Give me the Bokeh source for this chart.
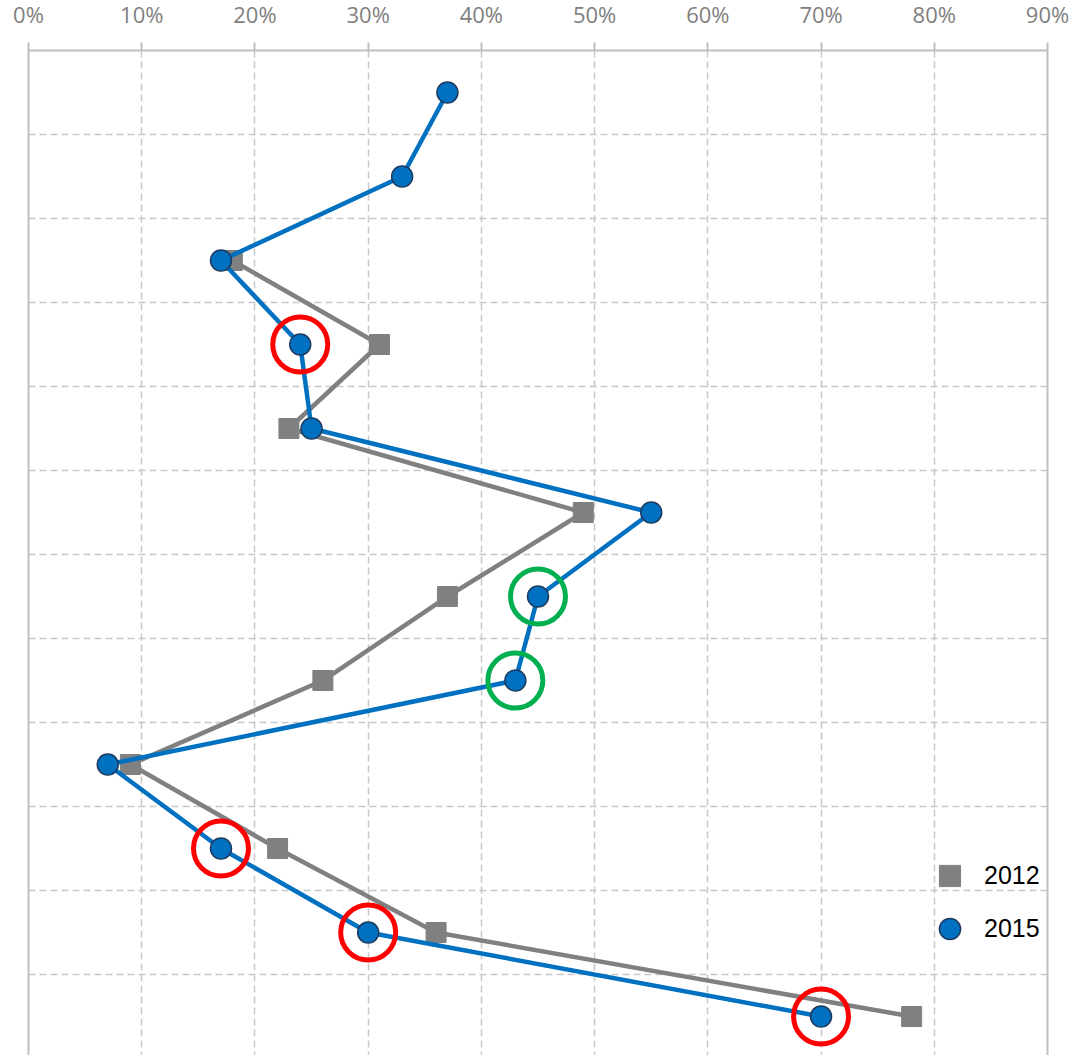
import math
from bokeh.plotting import figure
from bokeh.models import (Range1d, FixedTicker, LinearAxis, Legend, LegendItem,
                          ColumnDataSource, Grid)
from bokeh.embed import file_html
from bokeh.resources import INLINE

# ---- data ----
rows = [1, 2, 3, 4, 5, 6, 7, 8, 9, 10, 11, 12]
pct_2012 = [float("nan"), float("nan"), 18, 31, 23, 49, 37, 26, 9, 22, 36, 78]
pct_2015 = [37, 33, 17, 24, 25, 55, 45, 43, 7, 17, 30, 70]
x_ticks = [0, 10, 20, 30, 40, 50, 60, 70, 80, 90]
x_tick_labels = ["0%", "10%", "20%", "30%", "40%", "50%", "60%", "70%", "80%", "90%"]
highlight_rows = [4, 10, 11, 12, 7, 8]
highlight_colors = ["#ff0000", "#ff0000", "#ff0000", "#ff0000", "#00b050", "#00b050"]

GRID = "#c8c8c8"
AXIS = "#bfbfbf"

p = figure(width=1073, height=1060,
           x_range=Range1d(0, 90), y_range=Range1d(12.464, 0.5),
           x_axis_location="above", y_axis_location=None,
           output_backend="svg", toolbar_location=None,
           min_border_left=28, min_border_right=26, min_border_top=0, min_border_bottom=0,
           margin=(-5, 0, 0, 0))
p.outline_line_color = None
for g in p.ygrid:
    g.visible = False

xa = p.xaxis[0]
xa.ticker = FixedTicker(ticks=x_ticks)
xa.major_label_overrides = {t: l for t, l in zip(x_ticks, x_tick_labels)}
xa.major_label_text_font = "Open Sans"
xa.major_label_text_font_size = "22px"
xa.major_label_text_color = "#808080"
xa.axis_line_color = AXIS
xa.axis_line_width = 2
xa.major_tick_line_color = AXIS
xa.major_tick_line_width = 2
xa.major_tick_in = 0
xa.major_tick_out = 8
xa.minor_tick_line_color = None
xa.major_label_standoff = 14

p.xgrid.ticker = FixedTicker(ticks=x_ticks)
p.xgrid.grid_line_color = GRID
p.xgrid.grid_line_width = 1.5
p.xgrid.grid_line_dash = "7 4"

ygrid = Grid(dimension=1, ticker=FixedTicker(ticks=[r + 0.5 for r in rows[:-1]]),
             grid_line_color=GRID, grid_line_width=1.5, grid_line_dash="7 4")
p.add_layout(ygrid)

for side in ("left", "right"):
    ax = LinearAxis(ticker=FixedTicker(ticks=[]), axis_line_color=AXIS, axis_line_width=2,
                    major_tick_line_color=None, minor_tick_line_color=None,
                    major_label_text_font_size="0px", major_label_standoff=0)
    p.add_layout(ax, side)

src = ColumnDataSource(dict(row=rows, p12=pct_2012, p15=pct_2015))

p.line("p12", "row", source=src, line_color="#808080", line_width=4.5)
r12 = p.scatter("p12", "row", source=src, marker="square", size=20,
                fill_color="#808080", line_color="#808080")
p.line("p15", "row", source=src, line_color="#0070c0", line_width=4.5)

hx = [pct_2015[rows.index(r)] for r in highlight_rows]
hsrc = ColumnDataSource(dict(x=hx, y=highlight_rows, c=highlight_colors))
p.scatter("x", "y", source=hsrc, marker="circle", size=55, fill_color=None,
          line_color="c", line_width=5)

r15 = p.scatter("p15", "row", source=src, marker="circle", size=21,
                fill_color="#0070c0", line_color="#1f3a5f", line_width=1.5)

legend = Legend(items=[LegendItem(label="2012", renderers=[r12]),
                       LegendItem(label="2015", renderers=[r15])],
                location=(895, 100), glyph_width=53, glyph_height=53,
                label_text_font="Liberation Sans", label_text_font_size="25px",
                label_text_color="#000000", label_standoff=8, spacing=0,
                padding=0, margin=0, border_line_color=None,
                background_fill_alpha=0)
p.add_layout(legend)

open("out.html", "w").write(file_html(p, INLINE))
